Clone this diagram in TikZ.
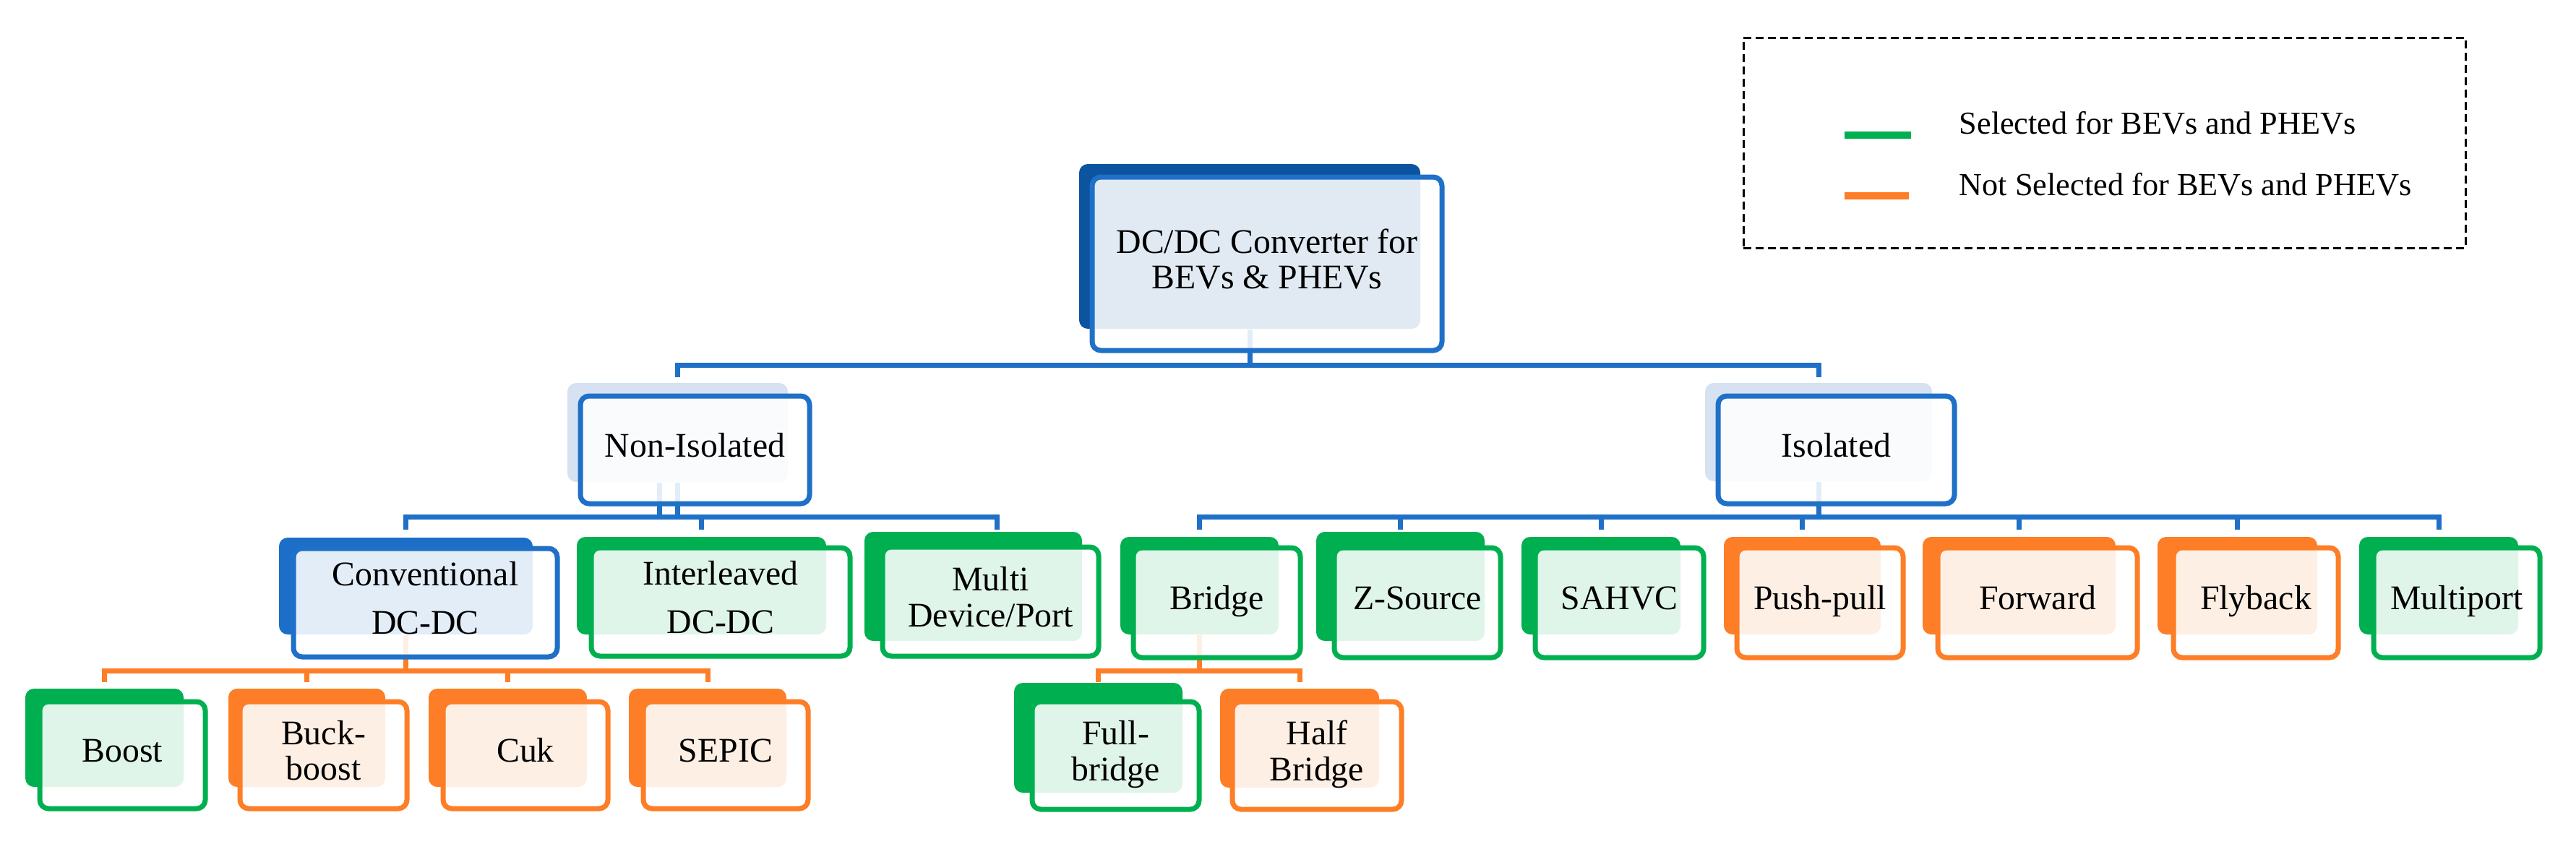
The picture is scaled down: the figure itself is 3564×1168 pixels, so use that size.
\documentclass[tikz,border=0pt]{standalone}
\usepackage{fontspec}
\setmainfont{Liberation Serif}
\usetikzlibrary{fit,calc}
\definecolor{blueO}{RGB}{31,112,199}
\definecolor{navyB}{RGB}{12,84,160}
\definecolor{convB}{RGB}{28,110,200}
\definecolor{lightB}{RGB}{214,226,242}
\definecolor{grn}{RGB}{0,176,80}
\definecolor{orn}{RGB}{253,126,38}
\newcommand\mynodefont{\fontsize{13.6pt}{14.2pt}\selectfont}
\newcommand\mylegfont{\fontsize{12.6pt}{15pt}\selectfont}
\tikzset{
  backbox/.style={inner sep=0pt, rounded corners=1.2mm},
  frontbox/.style={inner sep=0pt, rounded corners=1.2mm, line width=0.7mm, fill=white, fill opacity=0.88},
  con/.style={line width=0.7mm},
  txt/.style={font=\mynodefont, align=center, inner sep=0pt, text=black},
  leg/.style={font=\mylegfont, anchor=base west, inner sep=0pt, text=black},
}
\begin{document}
\begin{tikzpicture}[x=0.1mm, y=-0.1mm]
\useasboundingbox (0,0) rectangle (3564,1168);
% ---------- back rectangles ----------
\node[backbox, fill=navyB,  fit={(1493,227) (1965,455)}] (root) {};
\node[backbox, fill=lightB, fit={(785,530) (1090,667)}] (ni) {};
\node[backbox, fill=lightB, fit={(2359,530) (2673,666)}] (iso) {};
\node[backbox, fill=convB,  fit={(386,744) (737,878)}] (conv) {};
\node[backbox, fill=grn,    fit={(798,743) (1143,878)}] (inter) {};
\node[backbox, fill=grn,    fit={(1196,736) (1497,887)}] (multi) {};
\node[backbox, fill=grn,    fit={(1550,743) (1769,878)}] (bridge) {};
\node[backbox, fill=grn,    fit={(1821,736) (2054,887)}] (zsrc) {};
\node[backbox, fill=grn,    fit={(2105,743) (2325,878)}] (sahvc) {};
\node[backbox, fill=orn,    fit={(2385,743) (2602,878)}] (push) {};
\node[backbox, fill=orn,    fit={(2660,743) (2927,878)}] (fwd) {};
\node[backbox, fill=orn,    fit={(2985,743) (3206,878)}] (fly) {};
\node[backbox, fill=grn,    fit={(3264,743) (3484,878)}] (mport) {};
\node[backbox, fill=grn,    fit={(35,953) (254,1089)}] (boost) {};
\node[backbox, fill=orn,    fit={(316,953) (533,1089)}] (buck) {};
\node[backbox, fill=orn,    fit={(593,953) (812,1089)}] (cuk) {};
\node[backbox, fill=orn,    fit={(870,953) (1088,1089)}] (sepic) {};
\node[backbox, fill=grn,    fit={(1403,945) (1636,1097)}] (full) {};
\node[backbox, fill=orn,    fit={(1688,953) (1908,1090)}] (half) {};
% ---------- connectors ----------
\coordinate (bar1) at (0,505); \coordinate (end1) at (0,522);
\coordinate (bar2) at (0,715); \coordinate (end2) at (0,733);
\coordinate (bar3) at (0,928); \coordinate (end3) at (0,944);
\draw[con, blueO] (root.south) -- (root.south |- bar1) -| (ni.north |- end1);
\draw[con, blueO] (root.south) -- (root.south |- bar1) -| (iso.north |- end1);
\foreach \c in {conv,inter}
  \draw[con, blueO] (ni.south) -- (ni.south |- bar2) -| (\c.north |- end2);
\draw[con, blueO] (ni.south) -- (ni.south |- bar2) -| ($(multi.north |- end2)+(33,0)$);
\draw[con, blueO] ([xshift=-2.5mm]ni.south) -- ++(0,48);
\foreach \c in {bridge,zsrc,sahvc,push,fwd,fly,mport}
  \draw[con, blueO] (iso.south) -- (iso.south |- bar2) -| (\c.north |- end2);
\foreach \c in {boost,buck,cuk,sepic}
  \draw[con, orn] (conv.south) -- (conv.south |- bar3) -| (\c.north |- end3);
\foreach \c in {full,half}
  \draw[con, orn] (bridge.south) -- (bridge.south |- bar3) -| (\c.north |- end3);
% ---------- front boxes ----------
\node[frontbox, draw=blueO, fit={(1511,245) (1995,485)}] (root-f) {};
\node[frontbox, draw=blueO, fit={(803,548) (1120,697)}] (ni-f) {};
\node[frontbox, draw=blueO, fit={(2377,548) (2704,697)}] (iso-f) {};
\node[frontbox, draw=blueO, fit={(406,759) (771,909)}] (conv-f) {};
\node[frontbox, draw=grn,   fit={(818,758) (1176,908)}] (inter-f) {};
\node[frontbox, draw=grn,   fit={(1221,757) (1520,908)}] (multi-f) {};
\node[frontbox, draw=grn,   fit={(1568,758) (1799,910)}] (bridge-f) {};
\node[frontbox, draw=grn,   fit={(1846,758) (2076,910)}] (zsrc-f) {};
\node[frontbox, draw=grn,   fit={(2124,758) (2357,910)}] (sahvc-f) {};
\node[frontbox, draw=orn,   fit={(2403,758) (2633,910)}] (push-f) {};
\node[frontbox, draw=orn,   fit={(2681,758) (2957,910)}] (fwd-f) {};
\node[frontbox, draw=orn,   fit={(3007,758) (3235,910)}] (fly-f) {};
\node[frontbox, draw=grn,   fit={(3284,758) (3514,910)}] (mport-f) {};
\node[frontbox, draw=grn,   fit={(55,971) (284,1119)}] (boost-f) {};
\node[frontbox, draw=orn,   fit={(332,971) (563,1119)}] (buck-f) {};
\node[frontbox, draw=orn,   fit={(613,971) (841,1119)}] (cuk-f) {};
\node[frontbox, draw=orn,   fit={(890,971) (1118,1119)}] (sepic-f) {};
\node[frontbox, draw=grn,   fit={(1428,971) (1659,1120)}] (full-f) {};
\node[frontbox, draw=orn,   fit={(1705,971) (1939,1120)}] (half-f) {};
% ---------- texts ----------
\node[txt] (root-t)   at (root-f.center)   {\strut DC/DC Converter for\\\strut BEVs \& PHEVs};
\node[txt] (ni-t)     at (ni-f.center)     {\strut Non-Isolated};
\node[txt] (iso-t)    at (iso-f.center)    {\strut Isolated};
\node[txt] (conv-t)   at (conv-f.center)   {\strut Conventional\\[1.8mm]\strut DC-DC};
\node[txt] (inter-t)  at (inter-f.center)  {\strut Interleaved\\[1.8mm]\strut DC-DC};
\node[txt] (multi-t)  at (multi-f.center)  {\strut Multi\\\strut Device/Port};
\node[txt] (bridge-t) at (bridge-f.center) {\strut Bridge};
\node[txt] (zsrc-t)   at (zsrc-f.center)   {\strut Z-Source};
\node[txt] (sahvc-t)  at (sahvc-f.center)  {\strut SAHVC};
\node[txt] (push-t)   at (push-f.center)   {\strut Push-pull};
\node[txt] (fwd-t)    at (fwd-f.center)    {\strut Forward};
\node[txt] (fly-t)    at (fly-f.center)    {\strut Flyback};
\node[txt] (mport-t)  at (mport-f.center)  {\strut Multiport};
\node[txt] (boost-t)  at (boost-f.center)  {\strut Boost};
\node[txt] (buck-t)   at (buck-f.center)   {\strut Buck-\\\strut boost};
\node[txt] (cuk-t)    at (cuk-f.center)    {\strut Cuk};
\node[txt] (sepic-t)  at (sepic-f.center)  {\strut SEPIC};
\node[txt] (full-t)   at (full-f.center)   {\strut Full-\\\strut bridge};
\node[txt] (half-t)   at (half-f.center)   {\strut Half\\\strut Bridge};
% ---------- legend ----------
\node[inner sep=0pt, draw=black, line width=0.3mm, dash pattern=on 1.1mm off 0.6mm,
      fit={(2412,52) (3411,343)}] (legend) {};
\draw[line width=1mm, grn] (2552,187) -- (2644,187);
\draw[line width=1mm, orn] (2552,271) -- (2641,271);
\node[leg] (leg1) at (2710,185) {Selected for BEVs and PHEVs};
\node[leg] (leg2) at (2710,270) {Not Selected for BEVs and PHEVs};
\end{tikzpicture}
\end{document}
